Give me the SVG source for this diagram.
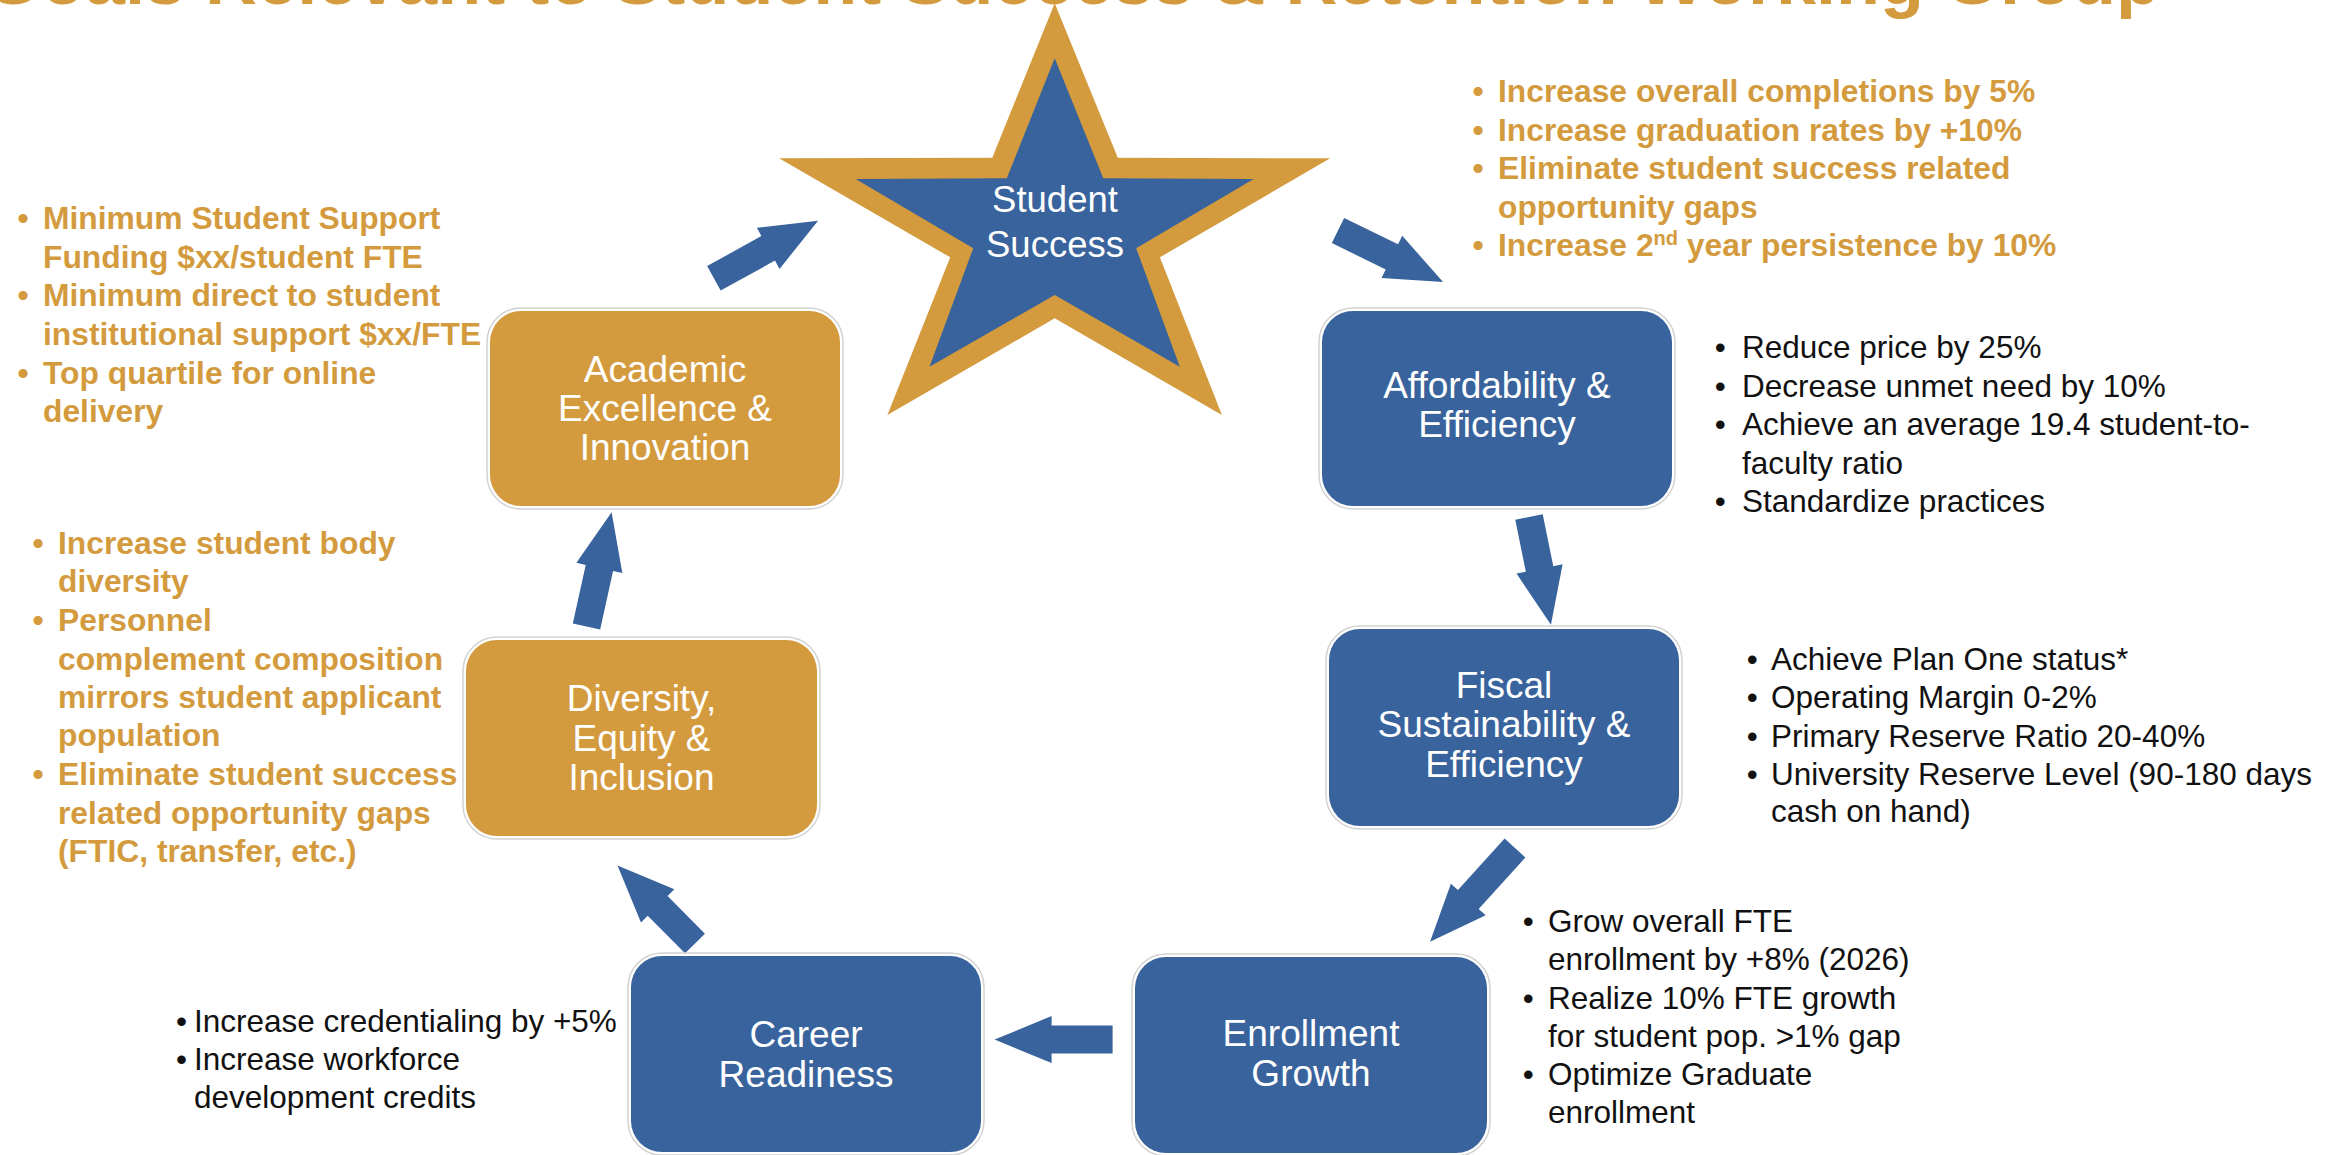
<svg xmlns="http://www.w3.org/2000/svg" width="2328" height="1155" viewBox="0 0 2328 1155">
<style>
  .title{font-family:"Liberation Sans",Arial,sans-serif;font-weight:bold;font-size:72px;fill:#D39B3E}
  .frame{fill:#ffffff;stroke:#d2d2d2;stroke-width:1.5}
  .blue{fill:#39639C}
  .gold{fill:#D39B3E}
  .lbl{font-family:"Liberation Sans",Arial,sans-serif;font-size:37px;fill:#ffffff;text-anchor:middle}
  .gl{font-family:"Liberation Sans",Arial,sans-serif;font-weight:bold;font-size:31.8px;fill:#D39B3E}
  .bl{font-family:"Liberation Sans",Arial,sans-serif;font-size:31.5px;fill:#111111}
  .arrow{fill:#39639C}
</style>

<text class="title" x="2160" y="4" text-anchor="end">Goals Relevant to Student Success &amp; Retention Working Group</text>

<g id="connectors">
  <path class="arrow" transform="translate(713.9,278.3) rotate(-28.9)" d="M0,-14 H62 V-23.5 L119,0 L62,23.5 V14 H0 Z"/>
  <path class="arrow" transform="translate(1338,230.5) rotate(26.1)" d="M0,-14 H60 V-23.5 L117,0 L60,23.5 V14 H0 Z"/>
  <path class="arrow" transform="translate(1529,517) rotate(78.5)" d="M0,-14 H53 V-23.5 L110,0 L53,23.5 V14 H0 Z"/>
  <path class="arrow" transform="translate(1515,848) rotate(132.2)" d="M0,-14 H69.5 V-23.5 L126.5,0 L69.5,23.5 V14 H0 Z"/>
  <path class="arrow" transform="translate(1112.6,1039.6) rotate(180)" d="M0,-14 H61 V-23.5 L118,0 L61,23.5 V14 H0 Z"/>
  <path class="arrow" transform="translate(695,943.5) rotate(-134.8)" d="M0,-14 H53 V-23.5 L110,0 L53,23.5 V14 H0 Z"/>
  <path class="arrow" transform="translate(586.5,626.5) rotate(-77.6)" d="M0,-14 H60 V-23.5 L117,0 L60,23.5 V14 H0 Z"/>
</g>

<g id="node-student-success">
  <polygon class="gold" points="1054.7,3.3 1117.8,157.7 1330.2,158.3 1159.9,257.3 1221.9,415 1054.7,318.3 887.4,415 950.2,257.3 779.1,158.3 992.3,157.7"/>
  <polygon class="blue" points="1054.7,58.3 1103.3,178.3 1253.7,179 1136.2,248.3 1179.8,366.7 1054.7,295 929.5,366.7 973.2,248.3 855.7,179 1006.8,178.3"/>
  <text class="lbl" x="1055" y="212" style="font-size:36.5px">Student</text>
  <text class="lbl" x="1055" y="256.5" style="font-size:36.5px">Success</text>
</g>

<g id="node-academic">
  <rect class="frame" x="487" y="308" width="356" height="201" rx="34"/>
  <rect class="gold" x="490" y="311" width="350" height="195" rx="31"/>
  <text class="lbl" x="665" y="381.5">Academic</text>
  <text class="lbl" x="665" y="420.5">Excellence &amp;</text>
  <text class="lbl" x="665" y="460">Innovation</text>
</g>

<g id="node-affordability">
  <rect class="frame" x="1319" y="308" width="356" height="201" rx="34"/>
  <rect class="blue" x="1322" y="311" width="350" height="195" rx="31"/>
  <text class="lbl" x="1497" y="398">Affordability &amp;</text>
  <text class="lbl" x="1497" y="437">Efficiency</text>
</g>

<g id="node-fiscal">
  <rect class="frame" x="1326" y="626" width="356" height="203" rx="34"/>
  <rect class="blue" x="1329" y="629" width="350" height="197" rx="31"/>
  <text class="lbl" x="1504" y="698">Fiscal</text>
  <text class="lbl" x="1504" y="737">Sustainability &amp;</text>
  <text class="lbl" x="1504" y="776.5">Efficiency</text>
</g>

<g id="node-enrollment">
  <rect class="frame" x="1132" y="954" width="358" height="202" rx="34"/>
  <rect class="blue" x="1135" y="957" width="352" height="196" rx="31"/>
  <text class="lbl" x="1311" y="1046">Enrollment</text>
  <text class="lbl" x="1311" y="1085.5">Growth</text>
</g>

<g id="node-career">
  <rect class="frame" x="628" y="953" width="356" height="202" rx="34"/>
  <rect class="blue" x="631" y="956" width="350" height="196" rx="31"/>
  <text class="lbl" x="806" y="1047">Career</text>
  <text class="lbl" x="806" y="1086.5">Readiness</text>
</g>

<g id="node-diversity">
  <rect class="frame" x="463" y="637" width="357" height="202" rx="34"/>
  <rect class="gold" x="466" y="640" width="351" height="196" rx="31"/>
  <text class="lbl" x="641.5" y="711">Diversity,</text>
  <text class="lbl" x="641.5" y="750.5">Equity &amp;</text>
  <text class="lbl" x="641.5" y="790">Inclusion</text>
</g>

<g id="goals-student-success" class="gl">
  <text x="1472.5" y="102">•</text><text x="1498" y="102">Increase overall completions by 5%</text>
  <text x="1472.5" y="140.5">•</text><text x="1498" y="140.5">Increase graduation rates by +10%</text>
  <text x="1472.5" y="179">•</text><text x="1498" y="179">Eliminate student success related</text>
  <text x="1498" y="217.5">opportunity gaps</text>
  <text x="1472.5" y="256">•</text><text x="1498" y="256">Increase 2<tspan baseline-shift="super" style="font-size:20px">nd</tspan> year persistence by 10%</text>
</g>

<g id="goals-academic" class="gl">
  <text x="17.6" y="228.5">•</text><text x="43" y="228.5">Minimum Student Support</text>
  <text x="43" y="267.5">Funding $xx/student FTE</text>
  <text x="17.6" y="306">•</text><text x="43" y="306">Minimum direct to student</text>
  <text x="43" y="345">institutional support $xx/FTE</text>
  <text x="17.6" y="383.5">•</text><text x="43" y="383.5">Top quartile for online</text>
  <text x="43" y="422">delivery</text>
</g>

<g id="goals-diversity" class="gl">
  <text x="32.5" y="553.5">•</text><text x="58" y="553.5">Increase student body</text>
  <text x="58" y="592">diversity</text>
  <text x="32.5" y="630.5">•</text><text x="58" y="630.5">Personnel</text>
  <text x="58" y="669.5">complement composition</text>
  <text x="58" y="708">mirrors student applicant</text>
  <text x="58" y="746">population</text>
  <text x="32.5" y="785">•</text><text x="58" y="785">Eliminate student success</text>
  <text x="58" y="823.5">related opportunity gaps</text>
  <text x="58" y="862">(FTIC, transfer, etc.)</text>
</g>

<g id="goals-affordability" class="bl">
  <text x="1714.7" y="358">•</text><text x="1742" y="358">Reduce price by 25%</text>
  <text x="1714.7" y="396.5">•</text><text x="1742" y="396.5">Decrease unmet need by 10%</text>
  <text x="1714.7" y="435">•</text><text x="1742" y="435">Achieve an average 19.4 student-to-</text>
  <text x="1742" y="473.5">faculty ratio</text>
  <text x="1714.7" y="512">•</text><text x="1742" y="512">Standardize practices</text>
</g>

<g id="goals-fiscal" class="bl">
  <text x="1746.7" y="670">•</text><text x="1771" y="670">Achieve Plan One status*</text>
  <text x="1746.7" y="708">•</text><text x="1771" y="708">Operating Margin 0-2%</text>
  <text x="1746.7" y="746.5">•</text><text x="1771" y="746.5">Primary Reserve Ratio 20-40%</text>
  <text x="1746.7" y="784.5">•</text><text x="1771" y="784.5">University Reserve Level (90-180 days</text>
  <text x="1771" y="822">cash on hand)</text>
</g>

<g id="goals-enrollment" class="bl">
  <text x="1522.7" y="931.5">•</text><text x="1548" y="931.5">Grow overall FTE</text>
  <text x="1548" y="970">enrollment by +8% (2026)</text>
  <text x="1522.7" y="1008.5">•</text><text x="1548" y="1008.5">Realize 10% FTE growth</text>
  <text x="1548" y="1046.5">for student pop. &gt;1% gap</text>
  <text x="1522.7" y="1084.5">•</text><text x="1548" y="1084.5">Optimize Graduate</text>
  <text x="1548" y="1123">enrollment</text>
</g>

<g id="goals-career" class="bl">
  <text x="176" y="1032">•</text><text x="194" y="1032">Increase credentialing by +5%</text>
  <text x="176" y="1070">•</text><text x="194" y="1070">Increase workforce</text>
  <text x="194" y="1108">development credits</text>
</g>
</svg>
